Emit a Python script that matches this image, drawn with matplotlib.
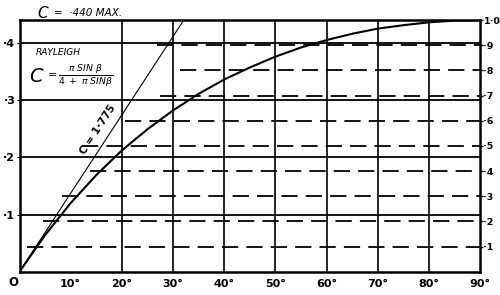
import matplotlib
matplotlib.use("Agg")
import matplotlib.pyplot as plt

# Rayleigh curve, values (C against angle beta)
beta_deg = [0, 5, 10, 15, 20, 25, 30, 35, 40, 45, 50, 55, 60, 65, 70, 75, 80, 85, 90]
c_rayleigh = [0.0, 0.064, 0.120, 0.169, 0.212, 0.249, 0.282, 0.311, 0.336, 0.357,
              0.376, 0.392, 0.405, 0.416, 0.425, 0.431, 0.436, 0.439, 0.440]

# initial tangent line "C = 1.775"
tangent_deg = [0, 32.1]
tangent_c = [0, 0.44]

# fraction-of-max dashed lines (right scale) and where each one starts
frac_levels = [0.1, 0.2, 0.3, 0.4, 0.5, 0.6, 0.7, 0.8, 0.9]
frac_start = [1.5, 4.6, 8.3, 13.8, 12.2, 20.6, 27.4, 31.3, 26.9]
c_max = 0.44

x_ticks = [10, 20, 30, 40, 50, 60, 70, 80, 90]
x_labels = ['10°', '20°', '30°', '40°', '50°', '60°', '70°', '80°', '90°']
y_ticks = [0.1, 0.2, 0.3, 0.4]
y_labels = ['·1', '·2', '·3', '·4']
r_ticks = [0.1, 0.2, 0.3, 0.4, 0.5, 0.6, 0.7, 0.8, 0.9, 1.0]
r_labels = ['·1', '·2', '·3', '·4', '·5', '·6', '·7', '·8', '·9', '1·0']

fig = plt.figure(figsize=(5, 2.95), dpi=100)
ax = fig.add_axes([0.039, 0.079, 0.921, 0.853])
ax.set_xlim(0, 90)
ax.set_ylim(0, c_max)

# solid grid (10 deg line broken where the title text sits)
for x in x_ticks[1:-1]:
    if x == 10:
        ax.plot([x, x], [0, 0.305], color='black', lw=1.2, solid_capstyle='butt')
        ax.plot([x, x], [0.4, c_max], color='black', lw=1.2, solid_capstyle='butt')
    else:
        ax.axvline(x, color='black', lw=1.2)
for y in y_ticks:
    ax.axhline(y, color='black', lw=1.3)

# dashed lines for fractions of max
for f, s in zip(frac_levels, frac_start):
    ax.plot([s, 90], [f * c_max, f * c_max], color='black', lw=1.3,
            dashes=(9, 4.5))

ax.plot(tangent_deg, tangent_c, color='black', lw=0.8)
ax.plot(beta_deg, c_rayleigh, color='black', lw=1.5)

for sp in ax.spines.values():
    sp.set_linewidth(1.8)

ax.set_xticks(x_ticks)
ax.set_xticklabels(x_labels, fontsize=8, fontweight='bold')
ax.set_yticks(y_ticks)
ax.set_yticklabels(y_labels, fontsize=8, fontweight='bold')
ax.tick_params(axis='x', length=0, pad=5)
ax.tick_params(axis='y', length=2, pad=1)

ax2 = ax.twinx()
ax2.set_ylim(0, 1.0)
ax2.set_yticks(r_ticks)
ax2.set_yticklabels(r_labels, fontsize=6.8, fontweight='bold')
ax2.tick_params(axis='y', length=2, width=1, pad=0.5)
for sp in ax2.spines.values():
    sp.set_visible(False)

ax.text(-1.2, -0.019, 'O', fontsize=8.5, fontweight='bold', ha='center', va='center',
        clip_on=False)

fig.text(0.074, 0.955, 'C', fontsize=11, fontstyle='italic', ha='left', va='center')
fig.text(0.108, 0.955, '=  ·440 MAX.', fontsize=7.5, fontstyle='italic', ha='left', va='center')

ax.text(3.1, 0.384, 'RAYLEIGH', fontsize=6.5, fontstyle='italic', ha='left', va='center')
ax.text(1.9, 0.342, 'C', fontsize=14, fontstyle='italic', ha='left', va='center')
ax.text(5.6, 0.343, '=', fontsize=8, ha='left', va='center')
ax.text(7.5, 0.343, r'$\frac{\pi\ \mathit{SIN}\ \beta}{4\ +\ \pi\ \mathit{SIN}\beta}$',
        fontsize=9.5, ha='left', va='center')

ax.text(15.3, 0.249, 'C = 1·775', fontsize=7.5, fontweight='bold', rotation=57,
        ha='center', va='center', rotation_mode='anchor')

fig.savefig('out.png', dpi=100)
